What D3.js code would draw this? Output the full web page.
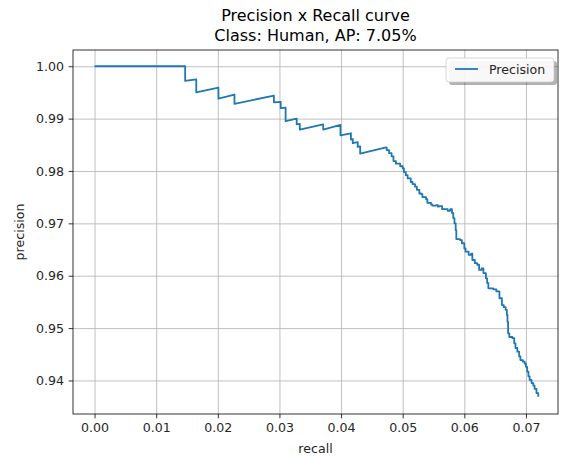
<!DOCTYPE html>
<html>
<head>
<meta charset="utf-8">
<script src="https://cdn.jsdelivr.net/npm/d3@7"></script>
<style>
  body { margin: 0; background: #fff; }
  svg { font-family: "DejaVu Sans", sans-serif; }
</style>
</head>
<body>
<div id="chart"></div>
<script>
// values
const titleLines = ["Precision x Recall curve", "Class: Human, AP: 7.05%"];
const seriesName = "Precision";

// first part: sparse saw-tooth, drawn point to point
const headRecall = [0, 0.0147, 0.0147, 0.0165, 0.0165, 0.0201, 0.0201, 0.0227, 0.0227, 0.0291, 0.0291,
  0.0302, 0.0302, 0.0310, 0.0310, 0.0328, 0.0328, 0.0333, 0.0333, 0.0371, 0.0371, 0.0399, 0.0399,
  0.0416, 0.0416, 0.0419, 0.0419, 0.0427, 0.0427, 0.0431, 0.0431, 0.0473];
const headPrecision = [1.0, 1.0, 0.9972, 0.9975, 0.9950, 0.9959, 0.9938, 0.9946, 0.9928, 0.9944, 0.9931,
  0.9932, 0.9920, 0.9921, 0.9895, 0.9900, 0.9889, 0.9890, 0.9879, 0.9889, 0.9879, 0.9888, 0.9868,
  0.9872, 0.9860, 0.9861, 0.9853, 0.9855, 0.9846, 0.9847, 0.9833, 0.9845];

// second part: dense small steps
const tailRecall = [0.0473, 0.0474, 0.0478, 0.0482, 0.0485, 0.0489, 0.0496, 0.0500, 0.0502, 0.0505,
  0.0508, 0.0513, 0.0516, 0.0520, 0.0523, 0.0527, 0.0530, 0.0532, 0.0538, 0.0540, 0.0546, 0.0548,
  0.0554, 0.0557, 0.0559, 0.0564, 0.0569, 0.0573, 0.0577, 0.0580, 0.0582, 0.0584, 0.0586, 0.0587,
  0.0593, 0.0596, 0.0600, 0.0602, 0.0607, 0.0611, 0.0613, 0.0617, 0.0621, 0.0624, 0.0628, 0.0631,
  0.0635, 0.0637, 0.0639, 0.0647, 0.0652, 0.0657, 0.0661, 0.0664, 0.0667, 0.0669, 0.0670, 0.0671,
  0.0673, 0.0678, 0.0681, 0.0683, 0.0686, 0.0689, 0.0691, 0.0695, 0.0698, 0.0700, 0.0702, 0.0704,
  0.0706, 0.0709, 0.0712, 0.0714, 0.0717, 0.0720];
const tailPrecision = [0.9845, 0.9840, 0.9834, 0.9828, 0.9819, 0.9814, 0.9809, 0.9805, 0.9798, 0.9792,
  0.9786, 0.9779, 0.9775, 0.9770, 0.9764, 0.9757, 0.9756, 0.9750, 0.9746, 0.9739, 0.9736, 0.9734,
  0.9735, 0.9732, 0.9733, 0.9727, 0.9727, 0.9724, 0.9727, 0.9720, 0.9710, 0.9700, 0.9687, 0.9670,
  0.9668, 0.9662, 0.9652, 0.9646, 0.9640, 0.9642, 0.9630, 0.9624, 0.9621, 0.9611, 0.9614, 0.9605,
  0.9595, 0.9586, 0.9576, 0.9574, 0.9570, 0.9557, 0.9544, 0.9540, 0.9535, 0.9525, 0.9512, 0.9490,
  0.9483, 0.9481, 0.9471, 0.9462, 0.9455, 0.9446, 0.9439, 0.9436, 0.9432, 0.9426, 0.9417, 0.9408,
  0.9401, 0.9395, 0.9390, 0.9384, 0.9376, 0.9369];

const xTicks = [0, 0.01, 0.02, 0.03, 0.04, 0.05, 0.06, 0.07];
const yTicks = [0.94, 0.95, 0.96, 0.97, 0.98, 0.99, 1.00];
const xLimits = [-0.0035, 0.0752];
const yLimits = [0.9336, 1.0031];

const width = 567, height = 457;
const margin = { top: 50, right: 9, bottom: 43, left: 73 };
const w = width - margin.left - margin.right;
const h = height - margin.top - margin.bottom;
const blue = "#1f77b4";
const fontSize = 12.6;

const svg = d3.select("#chart").append("svg")
  .attr("width", width)
  .attr("height", height);

const g = svg.append("g").attr("transform", `translate(${margin.left},${margin.top})`);

const x = d3.scaleLinear().domain(xLimits).range([0, w]);
const y = d3.scaleLinear().domain(yLimits).range([h, 0]);

// grid
g.append("g")
  .attr("transform", `translate(0,${h})`)
  .call(d3.axisBottom(x).tickValues(xTicks).tickSize(-h).tickFormat(""))
  .call(a => a.select(".domain").remove())
  .call(a => a.selectAll("line").attr("stroke", "#b0b0b0").attr("stroke-width", 0.8));
g.append("g")
  .call(d3.axisLeft(y).tickValues(yTicks).tickSize(-w).tickFormat(""))
  .call(a => a.select(".domain").remove())
  .call(a => a.selectAll("line").attr("stroke", "#b0b0b0").attr("stroke-width", 0.8));

// curve
const head = headRecall.map((r, i) => [r, headPrecision[i]]);
const tail = tailRecall.map((r, i) => [r, tailPrecision[i]]);

const line = d3.line().x(d => x(d[0])).y(d => y(d[1]));

g.append("path")
  .datum(head)
  .attr("d", line)
  .attr("fill", "none")
  .attr("stroke", blue)
  .attr("stroke-width", 1.8)
  .attr("stroke-linejoin", "round");

g.append("path")
  .datum(tail)
  .attr("d", line.curve(d3.curveStepAfter))
  .attr("fill", "none")
  .attr("stroke", blue)
  .attr("stroke-width", 1.8)
  .attr("stroke-linejoin", "round");

// axes
const xAxis = g.append("g")
  .attr("transform", `translate(0,${h})`)
  .call(d3.axisBottom(x).tickValues(xTicks).tickFormat(d3.format(".2f")).tickSize(4.4).tickPadding(4.5));
const yAxis = g.append("g")
  .call(d3.axisLeft(y).tickValues(yTicks).tickFormat(d3.format(".2f")).tickSize(4.4).tickPadding(4.5));

[xAxis, yAxis].forEach(a => {
  a.attr("font-family", "DejaVu Sans").attr("font-size", fontSize);
  a.selectAll("text").attr("fill", "#262626");
  a.selectAll("line").attr("stroke", "#000").attr("stroke-width", 0.8);
  a.select(".domain").remove();
});

// frame
g.append("rect")
  .attr("width", w).attr("height", h)
  .attr("fill", "none")
  .attr("stroke", "#000")
  .attr("stroke-width", 0.8);

// labels
svg.append("text")
  .attr("x", margin.left + w / 2)
  .attr("y", 453)
  .attr("text-anchor", "middle")
  .attr("font-size", fontSize)
  .attr("fill", "#262626")
  .text("recall");

svg.append("text")
  .attr("transform", `translate(24,${margin.top + h / 2}) rotate(-90)`)
  .attr("text-anchor", "middle")
  .attr("font-size", fontSize)
  .attr("fill", "#262626")
  .text("precision");

titleLines.forEach((t, i) => {
  svg.append("text")
    .attr("x", margin.left + w / 2)
    .attr("y", 20.5 + i * 20)
    .attr("text-anchor", "middle")
    .attr("font-size", 16)
    .attr("fill", "#000")
    .text(t);
});

// legend
const lg = svg.append("g").attr("transform", "translate(446,58)");
lg.append("rect")
  .attr("x", 3).attr("y", 3)
  .attr("width", 108).attr("height", 24)
  .attr("rx", 3)
  .attr("fill", "#000").attr("opacity", 0.3);
lg.append("rect")
  .attr("width", 108).attr("height", 24)
  .attr("rx", 3)
  .attr("fill", "#fff").attr("fill-opacity", 0.9)
  .attr("stroke", "#cccccc").attr("stroke-width", 0.8);
lg.append("line")
  .attr("x1", 9).attr("x2", 32)
  .attr("y1", 11).attr("y2", 11)
  .attr("stroke", blue).attr("stroke-width", 1.8);
lg.append("text")
  .attr("x", 43).attr("y", 15.5)
  .attr("font-size", fontSize)
  .attr("fill", "#262626")
  .text(seriesName);
</script>
</body>
</html>
